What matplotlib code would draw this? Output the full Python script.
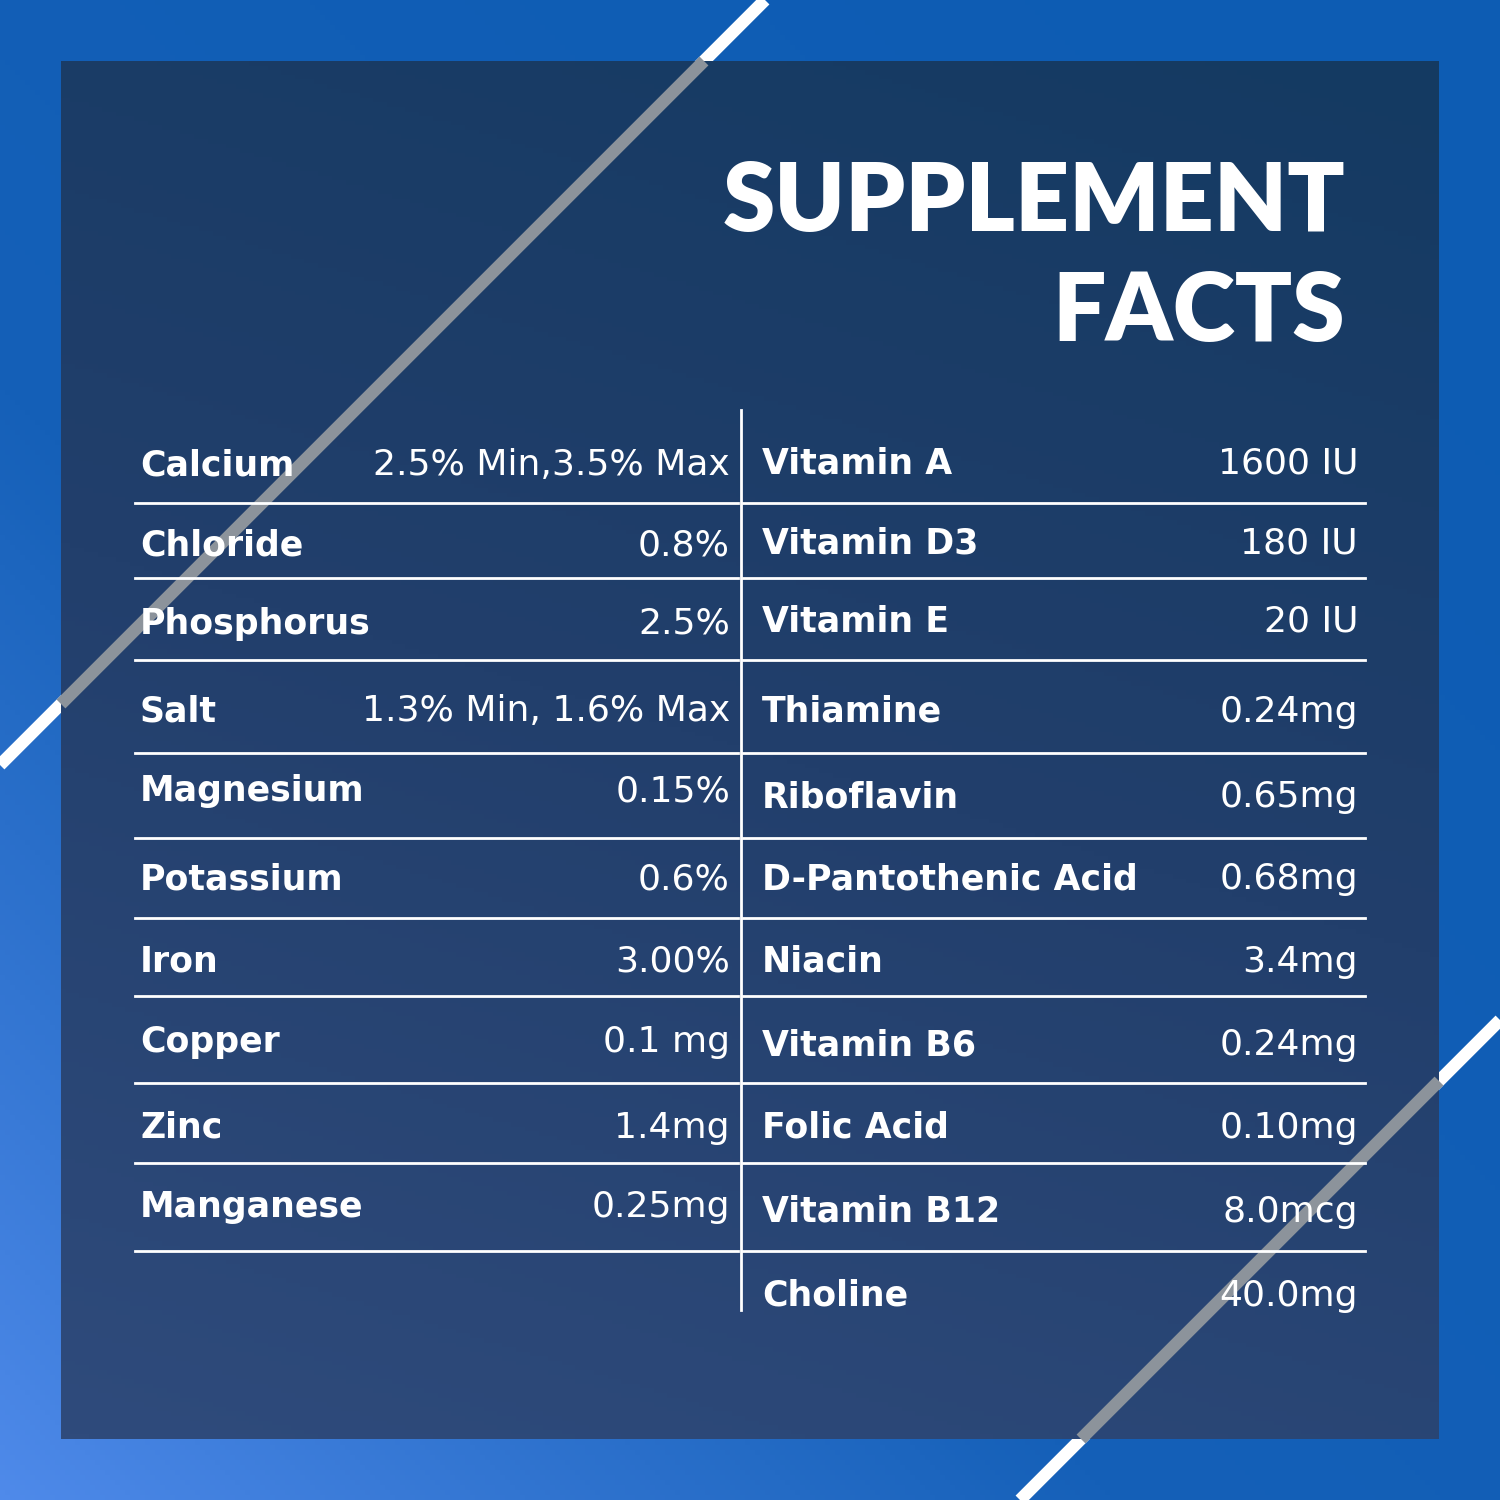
import matplotlib.pyplot as plt
import numpy as np
from matplotlib.colors import LinearSegmentedColormap

left_names = ["Calcium", "Chloride", "Phosphorus", "Salt", "Magnesium",
              "Potassium", "Iron", "Copper", "Zinc", "Manganese"]
left_vals = ["2.5% Min,3.5% Max", "0.8%", "2.5%", "1.3% Min, 1.6% Max", "0.15%",
             "0.6%", "3.00%", "0.1 mg", "1.4mg", "0.25mg"]
right_names = ["Vitamin A", "Vitamin D3", "Vitamin E", "Thiamine", "Riboflavin",
               "D-Pantothenic Acid", "Niacin", "Vitamin B6", "Folic Acid",
               "Vitamin B12", "Choline"]
right_vals = ["1600 IU", "180 IU", "20 IU", "0.24mg", "0.65mg", "0.68mg",
              "3.4mg", "0.24mg", "0.10mg", "8.0mcg", "40.0mg"]

left_y = [465, 546, 624, 711, 791, 879, 962, 1042, 1128, 1207]
right_y = [463, 543, 621, 712, 797, 879, 962, 1045, 1128, 1212, 1296]
rules = [503, 578, 660, 753, 838, 918, 996, 1083, 1163, 1251]

fig = plt.figure(figsize=(15, 15), dpi=100)
ax = fig.add_axes([0, 0, 1, 1])
ax.set_xlim(0, 1500)
ax.set_ylim(1500, 0)
ax.axis('off')

# background gradient
xx, yy = np.meshgrid(np.linspace(0, 1, 300), np.linspace(0, 1, 300))
t = np.clip((yy - xx + 1) / 2, 0, 1) ** 1.5
bg = LinearSegmentedColormap.from_list('bg', ['#0d5cb3', '#1560b8', '#4f8aea'])
ax.imshow(t, cmap=bg, extent=[0, 1500, 1500, 0], zorder=0, aspect='auto')

# diagonal lines
ax.plot([0, 765], [765, 0], color='white', lw=9, zorder=1, solid_capstyle='butt')
ax.plot([1020, 1500], [1500, 1020], color='white', lw=9, zorder=1, solid_capstyle='butt')

# panel
pt = np.clip((yy + (1 - xx) * 0.3), 0, 1.3) / 1.3
pan = LinearSegmentedColormap.from_list('pan', ['#143a62', '#223f6c', '#2f4b7c'])
ax.imshow(pt, cmap=pan, extent=[61, 1439, 1439, 61], zorder=2, aspect='auto')
# lines seen through the panel
ax.plot([61, 704], [704, 61], color='#8c939b', lw=9, zorder=3, solid_capstyle='butt')
ax.plot([1081, 1439], [1439, 1081], color='#8c939b', lw=9, zorder=3, solid_capstyle='butt')

ax.text(1345, 203, "SUPPLEMENT", ha='right', va='center', color='white',
        fontsize=68, fontweight='heavy', family='Lato', zorder=5)
ax.text(1345, 313, "FACTS", ha='right', va='center', color='white',
        fontsize=68, fontweight='heavy', family='Lato', zorder=5)

ax.plot([741, 741], [410, 1310], color='white', lw=2, zorder=5)
for y in rules:
    ax.plot([135, 738], [y, y], color='white', lw=2, zorder=5)
    ax.plot([743, 1365], [y, y], color='white', lw=2, zorder=5)

for n, v, y in zip(left_names, left_vals, left_y):
    ax.text(140, y, n, ha='left', va='center', color='white', fontsize=25,
            fontweight='bold', family='DejaVu Sans', zorder=5)
    ax.text(730, y, v, ha='right', va='center', color='white', fontsize=26,
            fontweight='normal', family='DejaVu Sans', zorder=5)
for n, v, y in zip(right_names, right_vals, right_y):
    ax.text(762, y, n, ha='left', va='center', color='white', fontsize=25,
            fontweight='bold', family='DejaVu Sans', zorder=5)
    ax.text(1358, y, v, ha='right', va='center', color='white', fontsize=26,
            fontweight='normal', family='DejaVu Sans', zorder=5)

fig.savefig('out.png', dpi=100)
